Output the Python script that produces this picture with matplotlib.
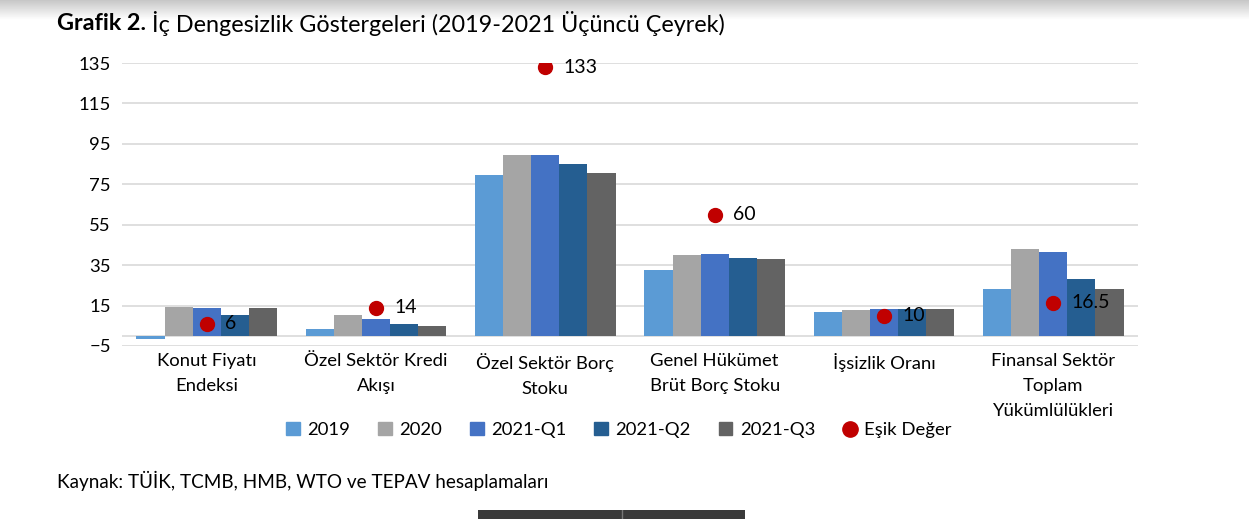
import numpy as np
import matplotlib
matplotlib.use('Agg')
import matplotlib.pyplot as plt
from matplotlib.lines import Line2D
from matplotlib.patches import Patch

plt.rcParams['font.family'] = ['Lato', 'DejaVu Sans']

# data
categories = ['Konut Fiyatı\nEndeksi', 'Özel Sektör Kredi\nAkışı', 'Özel Sektör Borç\nStoku',
              'Genel Hükümet\nBrüt Borç Stoku', 'İşsizlik Oranı', 'Finansal Sektör\nToplam\nYükümlülükleri']
series_names = ['2019', '2020', '2021-Q1', '2021-Q2', '2021-Q3']
v2019 = [-1.5, 3.3, 79.7, 32.7, 12.0, 23.4]
v2020 = [14.2, 10.5, 89.4, 40.0, 12.9, 43.0]
v2021q1 = [13.9, 8.6, 89.3, 40.6, 13.4, 41.6]
v2021q2 = [10.4, 6.0, 85.0, 38.6, 13.4, 28.2]
v2021q3 = [13.7, 5.0, 80.5, 38.1, 13.4, 23.1]
threshold = [6, 14, 133, 60, 10, 16.5]
threshold_labels = ['6', '14', '133', '60', '10', '16.5']

colors = ['#5B9BD5', '#A5A5A5', '#4472C4', '#255E91', '#636363']
dot_color = '#C00000'

fig = plt.figure(figsize=(12.49, 5.19), dpi=100)

# grey gradient strip at the top of the page
grad = fig.add_axes([0, 1 - 20 / 519, 1, 20 / 519])
g = np.linspace(0.78, 1.0, 50).reshape(-1, 1)
grad.imshow(np.repeat(g, 2, axis=1), cmap='gray', vmin=0, vmax=1, aspect='auto')
grad.axis('off')

ax = fig.add_axes([122 / 1249, 1 - 346 / 519, (1138 - 122) / 1249, (346 - 63) / 519])

x = np.arange(len(categories))
width = 0.166
all_vals = [v2019, v2020, v2021q1, v2021q2, v2021q3]
for i, (vals, name) in enumerate(zip(all_vals, series_names)):
    ax.bar(x + (i - 2) * width, vals, width, color=colors[i], label=name, zorder=2)

ax.plot(x, threshold, 'o', color=dot_color, markersize=10, zorder=3, label='Eşik Değer')
for xi, t, lab in zip(x, threshold, threshold_labels):
    ax.annotate(lab, (xi, t), xytext=(13, 0), textcoords='offset points',
                va='center', ha='left', fontsize=14, color='black', zorder=4)

ax.set_xlim(-0.5, len(categories) - 0.5)
ax.set_ylim(-5, 135)
ax.set_yticks(np.arange(-5, 136, 20))
ax.yaxis.grid(True, color='#D9D9D9', linewidth=1.2, zorder=0)
ax.axhline(0, color='#D9D9D9', linewidth=1.2, zorder=1)
for s in ax.spines.values():
    s.set_visible(False)
ax.tick_params(axis='both', length=0, labelsize=13.3, colors='black')
ax.tick_params(axis='y', pad=8)
ax.set_xticks(x)
ax.set_xticklabels(categories, linespacing=1.68, va='top')
ax.tick_params(axis='x', pad=5)

handles = [Patch(color=c) for c in colors] + [
    Line2D([], [], marker='o', linestyle='', color=dot_color, markersize=11)]
fig.legend(handles, series_names + ['Eşik Değer'], loc='center', ncol=6,
           bbox_to_anchor=(619 / 1249, 1 - 430 / 519), frameon=False, fontsize=13.3,
           handlelength=0.75, handleheight=0.75, handletextpad=0.4, columnspacing=1.5)

fig.text(57 / 1249, 1 - 24 / 519, 'Grafik 2.', fontsize=16.8, fontweight='bold', va='center', ha='left')
fig.text(152 / 1249, 1 - 24 / 519, 'İç Dengesizlik Göstergeleri (2019-2021 Üçüncü Çeyrek)',
         fontsize=16.8, va='center', ha='left')
fig.text(57 / 1249, 1 - 481 / 519, 'Kaynak: TÜİK, TCMB, HMB, WTO ve TEPAV hesaplamaları',
         fontsize=13.6, va='center', ha='left')

# dark tabs at the bottom edge
bot = fig.add_axes([478 / 1249, 0, (745 - 478) / 1249, 9 / 519])
bot.set_facecolor('#3A3A3A')
bot.axvline(0.54, color='#777777', linewidth=1)
bot.set_xticks([])
bot.set_yticks([])
for s in bot.spines.values():
    s.set_visible(False)

fig.savefig('out.png', dpi=100)
